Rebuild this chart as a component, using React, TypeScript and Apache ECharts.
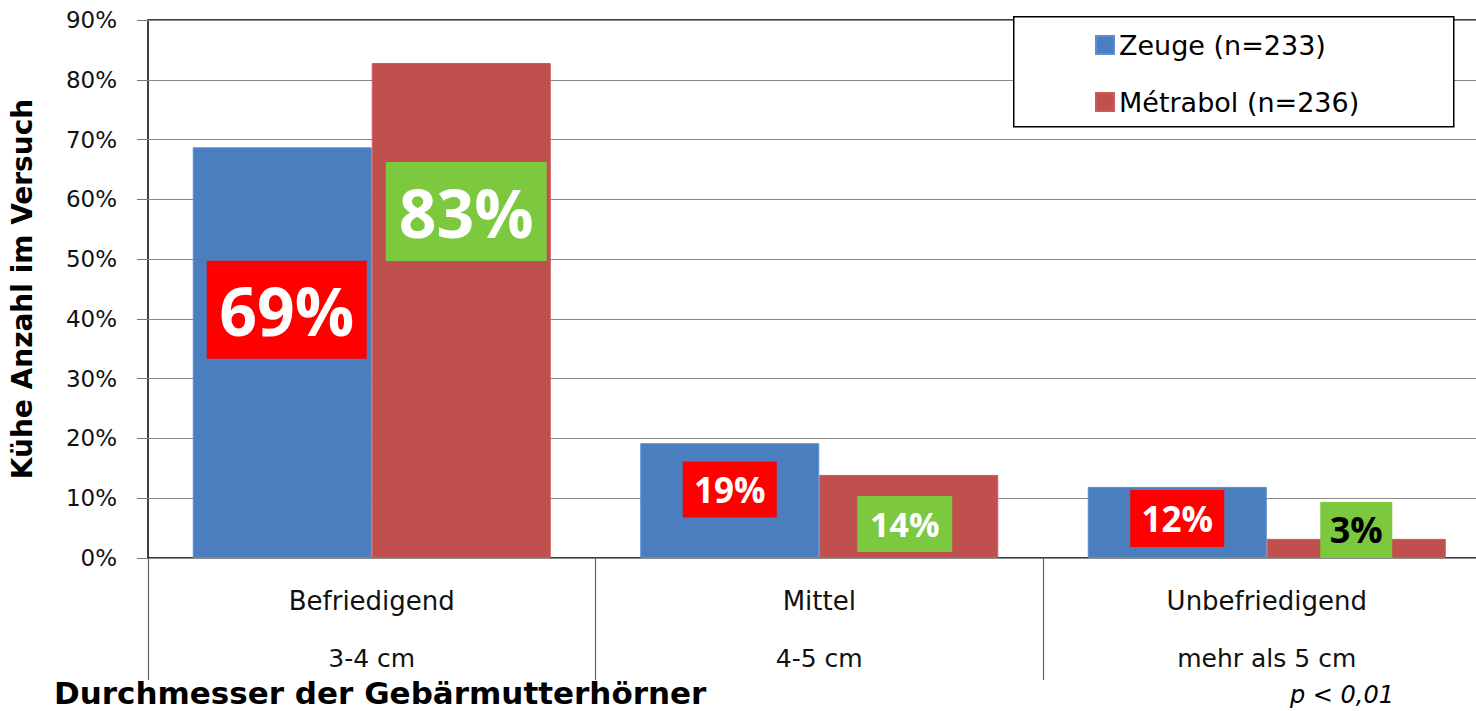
import React, { useEffect, useRef } from "react";
import * as echarts from "echarts";

const categories = ["Befriedigend", "Mittel", "Unbefriedigend"];
const sizeLabels = ["3-4 cm", "4-5 cm", "mehr als 5 cm"];
const seriesNames = ["Zeuge (n=233)", "Métrabol (n=236)"];
const zeugeValues = [68.7, 19.2, 11.9];
const metrabolValues = [82.8, 13.9, 3.2];
const yMin = 0;
const yMax = 90;
const yStep = 10;
const yAxisTitle = "Kühe Anzahl im Versuch";
const xAxisTitle = "Durchmesser der Gebärmutterhörner";
const pNote = "p < 0,01";

// label box styling (layout only)
const zeugeLabelStyle = [
  { w: 160, h: 98, size: 66, dx: 4.5, dy: -43, color: "#fff" },
  { w: 94, h: 56, size: 35, dx: 0, dy: -11, color: "#fff" },
  { w: 94, h: 57, size: 35, dx: 0, dy: -4, color: "#fff" },
];
const metrabolLabelStyle = [
  { w: 161, h: 99, size: 66, dx: 5, dy: -99, color: "#fff" },
  { w: 95, h: 56, size: 34, dx: -4, dy: 7.5, color: "#fff" },
  { w: 72, h: 56, size: 36, dx: 0, dy: -18.5, color: "#000" },
];

const BODY_FONT = "DejaVu Sans";
const LABEL_FONT = "Open Sans";

function buildData(values: number[], styles: any[], bg: string) {
  return values.map((v, i) => {
    const s = styles[i];
    return {
      value: v,
      label: {
        show: true,
        position: "inside",
        offset: [s.dx, s.dy],
        formatter: (p: any) => Math.round(p.value) + "%",
        width: s.w,
        height: s.h,
        lineHeight: s.h,
        align: "center",
        verticalAlign: "middle",
        backgroundColor: bg,
        color: s.color,
        fontFamily: LABEL_FONT,
        fontWeight: "bold",
        fontSize: s.size,
        padding: 0,
      },
    };
  });
}

export default function App() {
  const ref = useRef<HTMLDivElement>(null);
  useEffect(() => {
    document.body.style.margin = "0";
    const chart = echarts.init(ref.current!, undefined, { renderer: "svg" });
    chart.setOption({
      animation: false,
      backgroundColor: "#fff",
      grid: {
        left: 148,
        top: 20,
        right: -14.5,
        bottom: 153,
        containLabel: false,
        outerBoundsMode: "none",
        show: true,
        borderColor: "#000",
        borderWidth: 1.5,
        backgroundColor: "#fff",
      },
      legend: {
        orient: "vertical",
        left: 1095,
        top: 30,
        padding: 0,
        itemGap: 27,
        itemWidth: 18,
        itemHeight: 18,
        icon: "rect",
        z: 5,
        textStyle: {
          fontFamily: BODY_FONT,
          fontSize: 27,
          color: "#000",
          lineHeight: 30,
        },
        data: seriesNames,
      },
      xAxis: [
        {
          type: "category",
          data: categories,
          axisLine: {
            lineStyle: {
              color: "#000",
              width: 1.5,
              shadowColor: "rgba(0,0,0,0.45)",
              shadowBlur: 6,
              shadowOffsetY: 3,
            },
          },
          axisTick: {
            show: true,
            length: 122,
            interval: 0,
            lineStyle: { color: "#666", width: 1.2 },
          },
          axisLabel: {
            interval: 0,
            margin: 28,
            fontFamily: BODY_FONT,
            fontSize: 26,
            color: "#111",
            lineHeight: 30,
          },
        },
        {
          type: "category",
          position: "bottom",
          data: sizeLabels,
          axisLine: { show: false },
          axisTick: { show: false },
          splitLine: { show: false },
          axisLabel: {
            interval: 0,
            margin: 86,
            fontFamily: BODY_FONT,
            fontSize: 25,
            color: "#111",
            lineHeight: 28,
          },
        },
      ],
      yAxis: {
        type: "value",
        min: yMin,
        max: yMax,
        interval: yStep,
        name: yAxisTitle,
        nameLocation: "middle",
        nameGap: 112,
        nameTextStyle: {
          fontFamily: BODY_FONT,
          fontWeight: "bold",
          fontSize: 28,
          color: "#000",
        },
        axisLine: {
          show: true,
          lineStyle: {
            color: "#000",
            width: 1.5,
            shadowColor: "rgba(0,0,0,0.35)",
            shadowBlur: 6,
            shadowOffsetX: -3,
          },
        },
        axisTick: { show: true, length: 11, lineStyle: { color: "#777" } },
        axisLabel: {
          margin: 31,
          fontFamily: BODY_FONT,
          fontSize: 23,
          color: "#111",
          formatter: "{value}%",
        },
        splitLine: { show: true, lineStyle: { color: "#8a8a8a", width: 1.2 } },
      },
      series: [
        {
          name: seriesNames[0],
          type: "bar",
          xAxisIndex: 0,
          barWidth: 179,
          barGap: "0%",
          itemStyle: { color: "#4A7EBF", borderColor: "#5A8ED0", borderWidth: 1 },
          data: buildData(zeugeValues, zeugeLabelStyle, "#FF0000"),
        },
        {
          name: seriesNames[1],
          type: "bar",
          xAxisIndex: 0,
          barWidth: 179,
          barGap: "0%",
          itemStyle: { color: "#C0504D", borderColor: "#CC5C58", borderWidth: 1 },
          data: buildData(metrabolValues, metrabolLabelStyle, "#7CC83F"),
        },
      ],
      graphic: [
        {
          type: "rect",
          z: 3,
          left: 1013,
          top: 16,
          shape: { width: 440, height: 110 },
          style: { fill: "#fff", stroke: "#000", lineWidth: 1.5 },
        },
        {
          type: "text",
          left: 54,
          top: 675,
          style: {
            text: xAxisTitle,
            fontFamily: BODY_FONT,
            fontWeight: "bold",
            fontSize: 31,
            lineHeight: 35,
            fill: "#000",
          },
        },
        {
          type: "text",
          left: 1290,
          top: 681,
          style: {
            text: pNote,
            fontFamily: BODY_FONT,
            fontStyle: "italic",
            fontSize: 24,
            lineHeight: 28,
            fill: "#000",
          },
        },
      ],
    });
    return () => chart.dispose();
  }, []);
  return <div ref={ref} style={{ width: 1476, height: 711 }} />;
}
